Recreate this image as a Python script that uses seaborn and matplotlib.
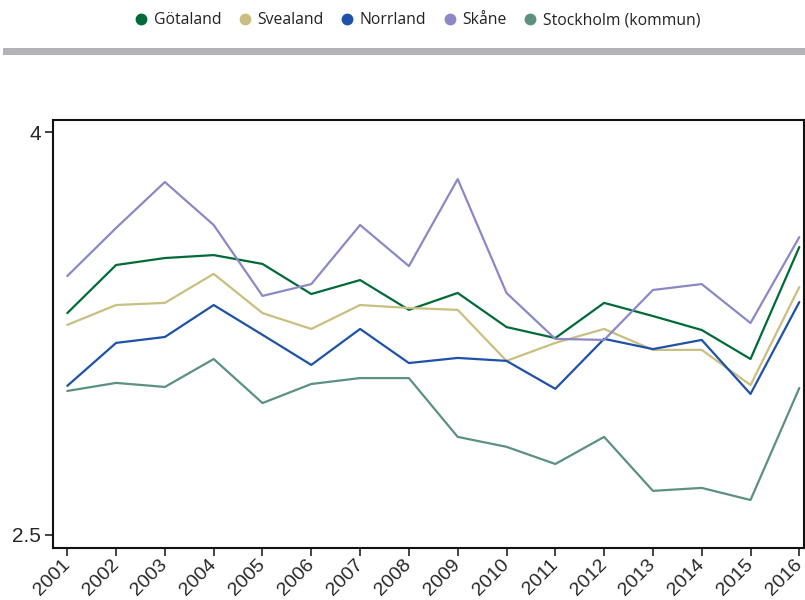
import pandas as pd
import matplotlib.pyplot as plt
import seaborn as sns
from matplotlib.lines import Line2D
from matplotlib.patches import Rectangle

# Data
years = list(range(2001, 2017))
regions = ['Götaland', 'Svealand', 'Norrland', 'Skåne', 'Stockholm (kommun)']
gotaland = [3.326, 3.505, 3.531, 3.542, 3.509, 3.397, 3.449, 3.338,
            3.401, 3.274, 3.233, 3.364, 3.315, 3.263, 3.155, 3.572]
svealand = [3.282, 3.356, 3.364, 3.472, 3.326, 3.267, 3.356, 3.345,
            3.338, 3.148, 3.215, 3.267, 3.189, 3.189, 3.058, 3.423]
norrland = [3.055, 3.215, 3.237, 3.356, 3.245, 3.133, 3.267, 3.140,
            3.159, 3.148, 3.044, 3.230, 3.192, 3.226, 3.025, 3.367]
skane = [3.464, 3.643, 3.814, 3.654, 3.390, 3.434, 3.654, 3.501,
         3.825, 3.401, 3.230, 3.226, 3.412, 3.434, 3.289, 3.609]
stockholm = [3.036, 3.066, 3.051, 3.155, 2.991, 3.062, 3.084, 3.084,
             2.865, 2.828, 2.764, 2.865, 2.664, 2.675, 2.630, 3.047]
colors = ['#006b38', '#c9bf80', '#1d52a8', '#8c88c6', '#5b9181']

# Long format for seaborn
series = [gotaland, svealand, norrland, skane, stockholm]
df = pd.DataFrame({
    'year': years * len(regions),
    'value': sum(series, []),
    'region': [r for r in regions for _ in years],
})

sns.set_style('white')
plt.rcParams['font.family'] = ['Liberation Sans', 'DejaVu Sans']

fig = plt.figure(figsize=(8.05, 6), dpi=100)
ax = fig.add_axes([0.066, 0.087, 0.933, 0.713])

sns.lineplot(data=df, x='year', y='value', hue='region', hue_order=regions,
             palette=colors, linewidth=1.6, legend=False, ax=ax)

ax.set_xlim(2000.71, 2016.1)
ax.set_ylim(2.452, 4.045)
ax.set_xticks(years)
ax.set_xticklabels([str(y) for y in years], rotation=45, ha='right', va='center',
                   rotation_mode='anchor', fontsize=14)
ax.set_yticks([2.5, 4])
ax.set_yticklabels(['2.5', '4'], fontsize=15)
ax.tick_params(axis='both', direction='out', length=6, width=1.2,
               color='#222222', left=True, bottom=True, pad=3)
ax.tick_params(axis='x', pad=4)
ax.set_xlabel('')
ax.set_ylabel('')
for s in ax.spines.values():
    s.set_color('#111111')
    s.set_linewidth(1.5)

# Legend on top
handles = [Line2D([0], [0], marker='o', linestyle='', markersize=7.5,
                  markerfacecolor=c, markeredgecolor=c) for c in colors]
leg = fig.legend(handles, regions, loc='center', bbox_to_anchor=(0.518, 0.966),
                 ncol=5, frameon=False, handletextpad=0.3, columnspacing=1.0,
                 handlelength=1.0, prop={'family': 'Open Sans', 'size': 11.3})
for t in leg.get_texts():
    t.set_color('#222222')

# Gray separator bar
fig.patches.append(Rectangle((0.004, 0.9085), 0.996, 0.0115, transform=fig.transFigure,
                             facecolor='#b3b3b7', edgecolor='none'))

plt.savefig('out.png', dpi=100)
